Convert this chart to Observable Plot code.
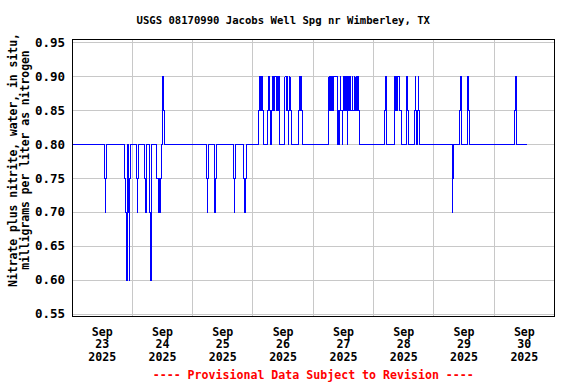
<!DOCTYPE html>
<html><head><meta charset="utf-8">
<script src="https://cdn.jsdelivr.net/npm/d3@7"></script>
<script src="https://cdn.jsdelivr.net/npm/@observablehq/plot@0.6"></script>
<style>body{margin:0;background:#fff}</style>
</head><body><div id="chart"></div>
<script>
const title = "USGS 08170990 Jacobs Well Spg nr Wimberley, TX";
const yLabel = "Nitrate plus nitrite, water, in situ,\nmilligrams per liter as nitrogen";
const footer = "---- Provisional Data Subject to Revision ----";
const xDomain = ["2025-09-23T00:00Z", "2025-10-01T00:00Z"];
const xGridDates = ["2025-09-24T00:00Z","2025-09-25T00:00Z","2025-09-26T00:00Z","2025-09-27T00:00Z","2025-09-28T00:00Z","2025-09-29T00:00Z","2025-09-30T00:00Z"];
const xTickDates = ["2025-09-23T12:00Z","2025-09-24T12:00Z","2025-09-25T12:00Z","2025-09-26T12:00Z","2025-09-27T12:00Z","2025-09-28T12:00Z","2025-09-29T12:00Z","2025-09-30T12:00Z"];
const xTickLabels = ["Sep\n23\n2025","Sep\n24\n2025","Sep\n25\n2025","Sep\n26\n2025","Sep\n27\n2025","Sep\n28\n2025","Sep\n29\n2025","Sep\n30\n2025"];
const yDomain = [0.5466, 0.9549];
const yTicks = [0.55, 0.60, 0.65, 0.70, 0.75, 0.80, 0.85, 0.90, 0.95];
const baselineValue = 0.8;
const seriesStart = "2025-09-23T00:00Z";
const seriesEnd = "2025-09-30T13:00Z";
// 15-minute readings that differ from the 0.80 baseline
const burstStarts = [
  "2025-09-23T13:00Z","2025-09-23T21:00Z","2025-09-24T01:45Z","2025-09-24T05:00Z","2025-09-24T06:45Z",
  "2025-09-24T09:45Z","2025-09-24T12:00Z","2025-09-25T05:30Z","2025-09-25T08:45Z","2025-09-25T16:15Z",
  "2025-09-25T20:15Z","2025-09-26T02:15Z","2025-09-26T05:45Z","2025-09-26T07:30Z","2025-09-26T12:30Z",
  "2025-09-26T18:00Z","2025-09-27T06:00Z","2025-09-28T04:30Z","2025-09-28T08:15Z","2025-09-28T13:00Z",
  "2025-09-28T16:15Z","2025-09-28T17:30Z","2025-09-29T07:15Z","2025-09-29T10:15Z","2025-09-29T13:30Z",
  "2025-09-30T08:00Z"
];
const burstValues = [
  [0.75,0.7,0.75],
  [0.75,0.7,0.7,0.6,0.7,0.8,0.7,0.6,0.75],
  [0.75,0.7,0.75],
  [0.75,0.7],
  [0.7,0.7,0.6],
  [0.75,0.75,0.7,0.75,0.75,0.7,0.75],
  [0.9,0.85,0.85],
  [0.75,0.7,0.75],
  [0.7,0.75,0.75],
  [0.75,0.7,0.75],
  [0.75,0.75,0.7,0.75],
  [0.85,0.9,0.9,0.85,0.9,0.9,0.9,0.85],
  [0.85,0.9,0.85,0.9,0.85],
  [0.85,0.9,0.85,0.9,0.85,0.9,0.9,0.85,0.9,0.85,0.85,0.9,0.85],
  [0.85,0.9,0.9,0.85,0.9,0.85,0.8,0.85,0.9,0.85,0.85],
  [0.85,0.85,0.9,0.85,0.9,0.85,0.85],
  [0.85,0.9,0.85,0.9,0.9,0.85,0.9,0.85,0.9,0.9,0.9,0.9,0.9,0.9,0.85,0.8,0.85,0.8,0.85,0.9,0.85,0.85,0.8,0.85,0.9,0.85,0.9,0.85,0.9,0.85,0.8,0.9,0.85,0.9,0.85,0.9,0.85,0.85,0.9,0.85,0.85,0.9,0.85,0.85,0.9,0.85,0.85,0.9,0.85,0.85],
  [0.85,0.9],
  [0.9,0.9,0.85,0.9,0.85,0.9,0.9,0.9,0.85,0.85,0.85,0.85],
  [0.85,0.9,0.85],
  [0.85,0.9,0.85],
  [0.85,0.9,0.85],
  [0.7,0.75,0.75],
  [0.85,0.85,0.9],
  [0.9,0.85,0.85],
  [0.85,0.85,0.9,0.85]
];

const step = 15 * 60 * 1000;
const rows = [{t: new Date(seriesStart), v: baselineValue}];
burstStarts.forEach((s, i) => {
  const t0 = +new Date(s);
  burstValues[i].forEach((v, k) => rows.push({t: new Date(t0 + k * step), v}));
  rows.push({t: new Date(t0 + burstValues[i].length * step), v: baselineValue});
});
rows.push({t: new Date(seriesEnd), v: baselineValue});

const labelMap = new Map(xTickDates.map((d, i) => [+new Date(d), xTickLabels[i]]));
const font = "DejaVu Sans Mono";

const chart = Plot.plot({
  width: 576, height: 384,
  marginTop: 39, marginBottom: 68, marginLeft: 71.5, marginRight: 22,
  style: {fontFamily: font, fontWeight: "bold", color: "black", background: "white"},
  x: {type: "utc", domain: xDomain.map(d => new Date(d)), label: null},
  y: {domain: yDomain, label: null},
  marks: [
    Plot.gridX(xGridDates.map(d => new Date(d)), {stroke: "#c8c8c8", strokeOpacity: 1, shapeRendering: "crispEdges"}),
    Plot.gridY(yTicks, {stroke: "#c8c8c8", strokeOpacity: 1, shapeRendering: "crispEdges"}),
    Plot.line(rows, {x: "t", y: "v", curve: "step-after", stroke: "#0000ff", strokeWidth: 1, shapeRendering: "crispEdges"}),
    Plot.frame({stroke: "black", strokeWidth: 1, shapeRendering: "crispEdges"}),
    Plot.axisX(xTickDates.map(d => new Date(d)), {tickSize: 0, tickPadding: 10, tickFormat: d => labelMap.get(+d), fontSize: 11.6, lineHeight: 1.1, label: null}),
    Plot.axisY(yTicks, {tickSize: 0, tickPadding: 7, tickFormat: d => d.toFixed(2), fontSize: 12.5, label: null}),
    Plot.text([title], {text: d => d, frameAnchor: "top", dx: -30, dy: -19, fontSize: 10.6, lineAnchor: "middle"}),
    Plot.text([yLabel], {text: d => d, frameAnchor: "left", rotate: -90, dx: -53, dy: -18, fontSize: 11.4, lineHeight: 1.05, lineAnchor: "middle", textAnchor: "middle"}),
    Plot.text([footer], {text: d => d, frameAnchor: "bottom", dy: 59, fontSize: 11.6, fill: "#ff0000", lineAnchor: "middle"})
  ]
});
document.getElementById("chart").appendChild(chart);
</script>
</body></html>
